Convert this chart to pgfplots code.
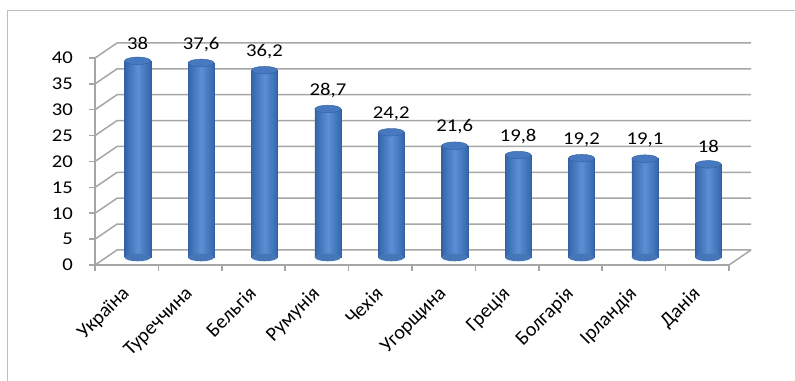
\documentclass[border=0pt]{standalone}
\usepackage{pgfplots}
\pgfplotsset{compat=1.18}
\usepackage{pgfplotstable}
\usepackage{fontspec}
\setmainfont{Carlito}

\definecolor{gridc}{HTML}{A6A6A6}
\definecolor{framec}{HTML}{BFBFBF}
\definecolor{cylEdge}{HTML}{30609E}
\definecolor{cylDark}{HTML}{3566A9}
\definecolor{cylMid}{HTML}{5A90D6}
\definecolor{cylTop}{HTML}{4679BF}
\definecolor{cylBase}{HTML}{4576B8}

% elliptical cap and base of a cylinder
\pgfdeclareplotmark{cylcap}{%
  \pgfpathellipse{\pgfpointorigin}{\pgfqpoint{13bp}{0bp}}{\pgfqpoint{0bp}{3.8bp}}%
  \pgfusepathqfillstroke}
\pgfdeclareplotmark{cylbase}{%
  \pgfpathellipse{\pgfpointorigin}{\pgfqpoint{13bp}{0bp}}{\pgfqpoint{0bp}{3.8bp}}%
  \pgfusepathqfill}

\pgfplotstableread{
idx base value
0 0 38
1 0 37.6
2 0 36.2
3 0 28.7
4 0 24.2
5 0 21.6
6 0 19.8
7 0 19.2
8 0 19.1
9 0 18
}\datatable

\begin{document}
\begin{tikzpicture}[font=\fontsize{18bp}{21bp}\selectfont]
\useasboundingbox (0,0) rectangle (795bp,381bp);
\draw[framec, line width=1bp] (7bp,-10bp) -- (7bp,370bp) -- (810bp,370bp);

% front plane: axes, ticks, labels, walls and floor
\begin{axis}[
  at={(95bp,116bp)}, anchor=south west,
  scale only axis, width=634bp, height=207bp,
  xmin=-0.5, xmax=9.5, ymin=0, ymax=40,
  clip=false,
  axis lines*=left,
  axis line style={gridc, line width=1.5bp},
  xtick={0,...,9},
  xticklabels={Україна,Туреччина,Бельгія,Румунія,Чехія,Угорщина,Греція,Болгарія,Ірландія,Данія},
  minor xtick={-0.5,0.5,...,9.5},
  ytick={0,5,...,40},
  minor ytick={0,5,...,40},
  major tick length=0pt,
  minor tick length=6bp,
  tick align=outside,
  minor tick style={gridc, line width=1.5bp},
  /pgf/number format/assume math mode=true,
  yticklabel style={anchor=east, inner sep=0pt, xshift=-22bp, xscale=1.15},
  xticklabel style={xshift=-6bp, yshift=-20bp, rotate=45,
    anchor=north east, inner sep=0pt, font=\fontsize{20bp}{23bp}\selectfont},
]
\pgfplotsinvokeforeach{0,5,...,40}{
  \draw[gridc, line width=1.5bp]
    (axis cs:-0.5,#1) -- ([shift={(22bp,15bp)}]axis cs:-0.5,#1)
    -- ([shift={(22bp,15bp)}]axis cs:9.5,#1);
}
\draw[gridc, line width=1.5bp] (axis cs:9.5,0) -- ([shift={(22bp,15bp)}]axis cs:9.5,0);
\end{axis}

% cylinders, set halfway into the depth of the chart
\begin{axis}[
  at={(106bp,123.5bp)}, anchor=south west,
  scale only axis, width=634bp, height=207bp,
  xmin=-0.5, xmax=9.5, ymin=0, ymax=40,
  hide axis, clip=false,
  /pgf/number format/use comma,
  /pgf/number format/assume math mode=true,
]
\addplot[only marks, mark=cylbase, mark options={fill=cylBase, draw=cylEdge}]
  table[x=idx, y=base] \datatable;
% one bar per plot, so that each cylinder gets its own shading
\pgfplotsinvokeforeach{0,...,9}{
  \addplot[ybar, bar width=26bp, bar shift=0pt, draw=cylEdge, line width=0.4bp,
    left color=cylDark, right color=cylDark, middle color=cylMid,
    restrict x to domain=#1:#1]
    table[x=idx, y=value] \datatable;
}
\addplot[only marks, mark=cylcap, mark options={fill=cylTop, draw=cylEdge, line width=0.4bp},
  nodes near coords,
  every node near coord/.append style={black, anchor=south, yshift=8bp, xscale=1.15,
    font=\fontsize{18bp}{21bp}\selectfont}]
  table[x=idx, y=value] \datatable;
\end{axis}
\end{tikzpicture}
\end{document}
